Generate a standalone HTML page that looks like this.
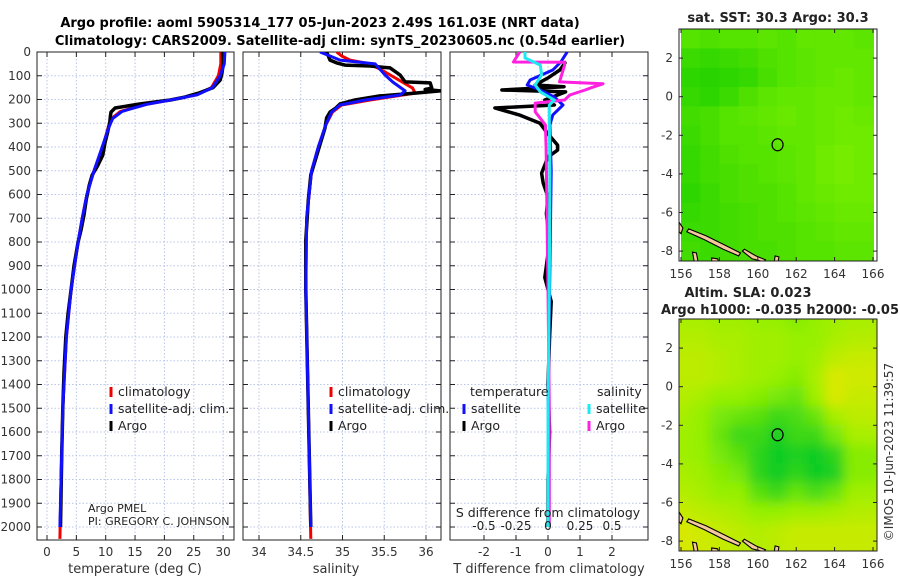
<!DOCTYPE html>
<html><head><meta charset="utf-8"><style>
html,body{margin:0;padding:0;background:#fff;width:900px;height:580px;overflow:hidden}
svg{font-family:"DejaVu Sans","Liberation Sans",sans-serif}
</style></head><body>
<svg id="chart" width="900" height="580" viewBox="0 0 900 580" xmlns="http://www.w3.org/2000/svg">
<defs>
<clipPath id="c1"><rect x="37" y="52" width="197" height="488"/></clipPath>
<clipPath id="c2"><rect x="243" y="52" width="198" height="488"/></clipPath>
<clipPath id="c3"><rect x="450" y="52" width="198" height="488"/></clipPath>
<clipPath id="cm1"><rect x="679" y="29" width="198" height="232"/></clipPath>
<clipPath id="cm2"><rect x="679" y="319" width="198" height="232"/></clipPath>
<filter id="blur" x="-5%" y="-5%" width="110%" height="110%"><feGaussianBlur stdDeviation="6"/></filter>
</defs>
<text x="320" y="27" text-anchor="middle" font-size="13" font-weight="bold">Argo profile: aoml 5905314_177 05-Jun-2023 2.49S 161.03E (NRT data)</text>
<text x="340" y="45" text-anchor="middle" font-size="13" font-weight="bold">Climatology: CARS2009. Satellite-adj clim: synTS_20230605.nc (0.54d earlier)</text>
<g id="g"></g>
</svg>
<script>
// ---- data ----
const depthTicks=[0,100,200,300,400,500,600,700,800,900,1000,1100,1200,1300,1400,1500,1600,1700,1800,1900,2000];
const tempTicks=[0,5,10,15,20,25,30];
const salTicks=[34,34.5,35,35.5,36];
const salTickLabels=["34","34.5","35","35.5","36"];
const tdTicks=[-2,-1,0,1,2];
const sdTicks=[-0.5,-0.25,0,0.25,0.5];
const sdTickLabels=["-0.5","-0.25","0","0.25","0.5"];
const lonTicks=[156,158,160,162,164,166];
const latTicks=[2,0,-2,-4,-6,-8];

const climTempDepth=[0,50,100,150,180,200,220,250,280,320,400,500,600,700,800,1000,1200,1500,1800,2050];
const climTemp=[29.6,29.6,29.2,28,25.5,21.5,17,12.5,11.0,10.4,9.5,8.0,6.8,6.0,5.3,4.1,3.3,2.7,2.4,2.2];
const satTempDepth=[0,50,100,150,180,200,220,250,280,320,400,500,600,700,800,1000,1200,1500,1800,2000];
const satTemp=[30.3,30.2,29.5,28.2,25.6,21.5,17,12.8,11.2,10.5,9.4,8.0,6.8,6.0,5.3,4.1,3.3,2.7,2.4,2.2];
const argoTempDepth=[0,30,55,90,118,150,172,190,202,219,236,253,270,295,340,380,434,480,518,560,620,686,750,800,900,1000,1100,1200,1350,1500,1700,1850,2000];
const argoTemp=[29.9,30.0,30.0,29.8,29.5,28.3,26,23.5,21,15.8,11.6,10.9,10.8,10.7,10.3,9.9,9.5,8.6,7.7,7.2,6.7,6.3,5.8,5.3,4.6,4.1,3.6,3.2,2.9,2.7,2.5,2.4,2.3];

const climSalDepth=[0,17,34,50,84,152,173,202,223,253,307,400,500,700,1000,1500,2050];
const climSal=[34.93,34.99,35.09,35.33,35.51,35.84,35.87,35.33,34.99,34.88,34.80,34.71,34.63,34.57,34.56,34.59,34.62];
const satSalDepth=[0,17,34,50,97,126,164,181,202,223,253,307,400,500,700,1000,1500,2000];
const satSal=[34.73,34.85,34.97,35.39,35.51,35.6,35.75,35.69,35.27,34.97,34.87,34.80,34.71,34.63,34.57,34.56,34.59,34.62];
const argoSalDepth=[0,34,46,55,59,63,67,97,126,130,152,158,164,173,185,202,219,236,253,278,320,413,518,623,792,1000,1500,2000];
const argoSal=[34.81,34.85,34.93,35.03,35.33,35.45,35.57,35.69,35.75,36.05,36.07,35.99,36.17,35.87,35.45,35.15,34.97,34.92,34.85,34.81,34.79,34.71,34.62,34.59,34.56,34.56,34.59,34.62];

const argoTdDepth=[40,46,76,109,139,146,160,168,202,223,236,265,300,345,392,413,442,510,552,610,680,800,950,1050,1200,1400,1600,1800,2000];
const argoTd=[0.5,0.53,0.37,0,-0.4,0.5,-1.44,0.55,-0.1,0.2,-1.66,-0.9,-0.25,0,0.3,0.3,0,-0.2,-0.15,0,-0.05,0.05,-0.1,0.1,0.05,0,0.05,0,0];
const satTdDepth=[0,42,76,118,139,160,190,223,265,307,500,1000,1500,2000];
const satTd=[0.6,0.4,0.15,-0.56,-0.65,-0.25,0.2,0.47,0.15,0.06,0.1,0.05,0.0,0.0];
const argoSdDepth=[0,42,43,55,126,134,152,160,181,202,215,252,307,400,1000,1500,2000];
const argoSd=[-0.22,-0.27,0.13,0.13,0.09,0.43,0.33,0.29,0.17,0.13,-0.1,-0.1,-0.02,-0.015,0,0.01,0.01];
const satSdDepth=[0,25,55,97,139,168,202,223,290,500,1000,1500,2000];
const satSd=[-0.18,-0.18,-0.06,-0.05,-0.1,-0.06,0.05,0.01,0.01,0.015,0.01,0.0,0.0];

const sstGrid=[
[.5,.45,.5,.5,.55,.5,.6,.6,.6,.55],
[.3,.25,.3,.35,.45,.5,.55,.6,.6,.6],
[.2,.15,.2,.25,.4,.5,.55,.6,.65,.6],
[.25,.2,.3,.45,.55,.6,.6,.65,.65,.6],
[.35,.4,.5,.55,.6,.65,.6,.65,.7,.65],
[.3,.4,.5,.5,.55,.6,.6,.65,.7,.7],
[.25,.35,.45,.5,.5,.55,.6,.7,.75,.7],
[.25,.35,.4,.45,.5,.55,.6,.7,.75,.7],
[.2,.3,.4,.45,.45,.5,.6,.65,.7,.7],
[.25,.3,.35,.4,.45,.5,.55,.6,.65,.65],
[.3,.3,.35,.4,.45,.45,.5,.55,.6,.6],
[.35,.3,.35,.4,.4,.45,.5,.5,.55,.55]];
const slaGrid=[
[.6,.6,.55,.55,.5,.5,.45,.5,.55,.6],
[.65,.65,.6,.6,.55,.55,.5,.5,.6,.65],
[.7,.7,.65,.6,.55,.55,.5,.55,.7,.75],
[.7,.7,.65,.6,.55,.5,.45,.6,.85,.8],
[.65,.6,.5,.5,.45,.4,.35,.55,.85,.75],
[.6,.5,.4,.35,.3,.2,.25,.35,.6,.7],
[.55,.5,.35,.2,.2,.1,.2,.2,.4,.6],
[.55,.5,.4,.3,.15,.05,.1,.05,.15,.45],
[.6,.55,.45,.4,.15,.05,.15,.05,.1,.45],
[.65,.6,.5,.5,.3,.2,.35,.25,.35,.55],
[.75,.7,.65,.6,.5,.5,.55,.55,.6,.65],
[.85,.8,.75,.7,.65,.7,.75,.75,.75,.75]];
const islands=[
[[156.4,-6.85],[157.3,-7.2],[158.3,-7.7],[159.1,-8.1],[159.0,-8.25],[158.2,-7.9],[157.2,-7.4],[156.3,-7.0]],
[[159.3,-7.9],[159.9,-8.25],[160.4,-8.45],[160.3,-8.55],[159.7,-8.4],[159.2,-8.0]],
[[156.6,-8.05],[156.8,-8.1],[156.9,-8.6],[156.7,-8.6]],
[[157.6,-8.35],[157.9,-8.4],[158.0,-8.6],[157.6,-8.6]],
[[155.9,-6.5],[156.1,-6.8],[156.0,-7.1],[155.9,-7.0]],
[[160.9,-8.25],[161.1,-8.3],[161.05,-8.6],[160.85,-8.6]]];
const floatLon=161.03, floatLat=-2.49;

// ---- helpers ----
const NS="http://www.w3.org/2000/svg";
const G=document.getElementById('g');
function el(t,a,p){const e=document.createElementNS(NS,t);for(const k in a)e.setAttribute(k,a[k]);(p||G).appendChild(e);return e;}
const Y0=52, DPX=0.2375;
const yD=d=>Y0+d*DPX;
const xT=t=>47+t*5.87;
const xS=s=>259+(s-34)*83.5;
const xTd=v=>548+v*32;
const xSd=v=>548+v*128;
const mx=lon=>681+(lon-156)*19.2;
const myT=lat=>96.7-lat*19.3;
const myB=lat=>386.7-lat*19.3;

function panel(x0,w,name,xTicks,xf,xLabels){
  const f=el('rect',{x:x0,y:52,width:w,height:488,fill:'#fff',stroke:'none'});
  
  const grid=el('g',{stroke:'#b8c4e8','stroke-dasharray':'1.5,2','stroke-width':1});
  
  depthTicks.forEach(d=>el('line',{x1:x0,x2:x0+w,y1:yD(d),y2:yD(d)},grid));
  xTicks.forEach(t=>el('line',{x1:xf(t),x2:xf(t),y1:52,y2:540},grid));
  const ax=el('g',{stroke:'#222','stroke-width':1});
  
  depthTicks.forEach(d=>{el('line',{x1:x0,x2:x0+5,y1:yD(d),y2:yD(d)},ax);el('line',{x1:x0+w-5,x2:x0+w,y1:yD(d),y2:yD(d)},ax);});
  xTicks.forEach(t=>{el('line',{x1:xf(t),x2:xf(t),y1:540,y2:535},ax);el('line',{x1:xf(t),x2:xf(t),y1:52,y2:57},ax);});
  el('rect',{x:x0,y:52,width:w,height:488,fill:'none'},ax);
  if(xLabels){xTicks.forEach((t,i)=>{const tx=el('text',{x:xf(t),y:556,'text-anchor':'middle','font-size':12,fill:'#333'});tx.textContent=xLabels[i];
    });}
}
function line(depths,vals,xf,color,name,clip,w){
  const pts=depths.map((d,i)=>xf(vals[i]).toFixed(1)+','+yD(d).toFixed(1)).join(' ');
  const p=el('polyline',{points:pts,fill:'none',stroke:color,'stroke-width':w||3,'stroke-linejoin':'round','clip-path':'url(#'+clip+')'});
  
}
function txt(x,y,s,name,attrs){const t=el('text',Object.assign({x:x,y:y,'font-size':12,fill:'#222'},attrs||{}));t.textContent=s;
  return t;}

depthTicks.forEach(d=>{txt(31,yD(d)+4,String(d),'depth-tick-label',{'text-anchor':'end',fill:'#333'});});

// panel 1
panel(37,197,'temperature-panel',tempTicks,xT,tempTicks.map(String));
line(climTempDepth,climTemp,xT,'#f00000','climatology-temperature-line','c1');
line(argoTempDepth,argoTemp,xT,'#000','argo-temperature-line','c1',3.5);
line(satTempDepth,satTemp,xT,'#1010ff','satellite-temperature-line','c1');
txt(135,573,'temperature (deg C)','temperature-axis-title',{'text-anchor':'middle','font-size':13,fill:'#333'});
function legend(x,y0,items,prefix){
  items.forEach((it,i)=>{const y=y0+i*17;
    const m=el('line',{x1:x,x2:x,y1:y-9,y2:y+1,stroke:it[1],'stroke-width':3});
    
    txt(x+7,y,it[0],prefix+'-legend-entry',{'font-size':12.5});});
}
legend(111,396,[['climatology','#f00000'],['satellite-adj. clim.','#1010ff'],['Argo','#000']],'temperature');
txt(88,512,'Argo PMEL','pi-institution',{'font-size':11});
txt(88,525,'PI: GREGORY C. JOHNSON','pi-name',{'font-size':11});

// panel 2
panel(243,198,'salinity-panel',salTicks,xS,salTickLabels);
line(climSalDepth,climSal,xS,'#f00000','climatology-salinity-line','c2');
line(argoSalDepth,argoSal,xS,'#000','argo-salinity-line','c2',3.5);
line(satSalDepth,satSal,xS,'#1010ff','satellite-salinity-line','c2');
txt(336,573,'salinity','salinity-axis-title',{'text-anchor':'middle','font-size':13,fill:'#333'});
legend(331,396,[['climatology','#f00000'],['satellite-adj. clim.','#1010ff'],['Argo','#000']],'salinity');

// panel 3
panel(450,198,'difference-panel',tdTicks,xTd,tdTicks.map(String));
line(argoTdDepth,argoTd,xTd,'#000','argo-temperature-difference-line','c3',3.5);
line(satTdDepth,satTd,xTd,'#1010ff','satellite-temperature-difference-line','c3');
line(argoSdDepth,argoSd,xSd,'#ff20e0','argo-salinity-difference-line','c3');
line(satSdDepth,satSd,xSd,'#20e8f0','satellite-salinity-difference-line','c3');
sdTicks.forEach((t,i)=>txt(xSd(t),530,sdTickLabels[i],'s-difference-tick-label',{'text-anchor':'middle','font-size':12}));
txt(548,517,'S difference from climatology','s-difference-axis-title',{'text-anchor':'middle','font-size':12.5});
txt(549,573,'T difference from climatology','t-difference-axis-title',{'text-anchor':'middle','font-size':13,fill:'#333'});
txt(470,396,'temperature','difference-legend-temperature-heading',{'font-size':12.5});
txt(597,396,'salinity','difference-legend-salinity-heading',{'font-size':12.5});
legend(464,413,[['satellite','#1010ff'],['Argo','#000']],'temperature-difference');
legend(589,413,[['satellite','#20e8f0'],['Argo','#ff20e0']],'salinity-difference');

// maps
function lerp(a,b,t){return a.map((v,i)=>Math.round(v+(b[i]-v)*t));}
function sstColor(v){const c=lerp([20,205,0],[150,248,0],v);return 'rgb('+c+')';}
function slaColor(v){const c=v<0.5?lerp([0,200,40],[150,240,0],v/0.5):lerp([150,240,0],[245,230,0],(v-0.5)/0.5);return 'rgb('+c+')';}
function map(grid,colorf,yf,clip,name,top,blur){
  const g=el('g',{'clip-path':'url(#'+clip+')'});
  
  const cg=el('g',blur?{filter:'url(#blur)'}:{},g);
  grid.forEach((row,r)=>row.forEach((v,c)=>{
    const lat=3.5-r, lon=156+c;
    const x=mx(lon-(blur?0.5:0)), y=yf(lat+(blur?0.5:0));
    const ex=blur?1:0;
    const ww=19.2*(1+ex*(c==0||c==row.length-1?1.5:1)), hh=19.3*(1+ex*(r==0||r==grid.length-1?1.5:1));
    const cell=el('rect',{x:x-(blur&&c==0?19:0),y:y-(blur&&r==0?19:0),width:ww+1,height:hh+1,fill:colorf(v)},cg);
    
  }));
  islands.forEach(poly=>{const p=el('polygon',{points:poly.map(q=>mx(q[0]).toFixed(1)+','+yf(q[1]).toFixed(1)).join(' '),fill:'#f4c79c',stroke:'#000','stroke-width':1.1},g);
    });
  const c=el('ellipse',{cx:mx(floatLon),cy:yf(floatLat),rx:5.5,ry:6,fill:'none',stroke:'#000','stroke-width':1.2},g);
  
  const ax=el('g',{stroke:'#222','stroke-width':1});
  
  el('rect',{x:679,y:top,width:198,height:232,fill:'none'},ax);
  lonTicks.forEach(l=>{el('line',{x1:mx(l),x2:mx(l),y1:top+232,y2:top+228},ax);el('line',{x1:mx(l),x2:mx(l),y1:top,y2:top+4},ax);
    txt(mx(l),top+249,String(l),name+'-longitude-tick-label',{'text-anchor':'middle',fill:'#333'});});
  latTicks.forEach(l=>{el('line',{x1:679,x2:683,y1:yf(l),y2:yf(l)},ax);el('line',{x1:877,x2:873,y1:yf(l),y2:yf(l)},ax);
    txt(673,yf(l)+4,String(l),name+'-latitude-tick-label',{'text-anchor':'end',fill:'#333'});});
}
map(sstGrid,sstColor,myT,'cm1','sst',29,false);
map(slaGrid,slaColor,myB,'cm2','sla',319,true);
txt(778,22,'sat. SST: 30.3 Argo: 30.3','sst-map-title',{'text-anchor':'middle','font-size':13,'font-weight':'bold'});
txt(748,297,'Altim. SLA: 0.023','sla-map-title',{'text-anchor':'middle','font-size':13,'font-weight':'bold'});
txt(780,314,'Argo h1000: -0.035 h2000: -0.05','sla-map-subtitle',{'text-anchor':'middle','font-size':13,'font-weight':'bold'});
txt(0,0,'©IMOS 10-Jun-2023 11:39:57','copyright-timestamp',{'text-anchor':'middle','font-size':12,fill:'#333',transform:'translate(893,452) rotate(-90)'});
</script>
</body></html>
